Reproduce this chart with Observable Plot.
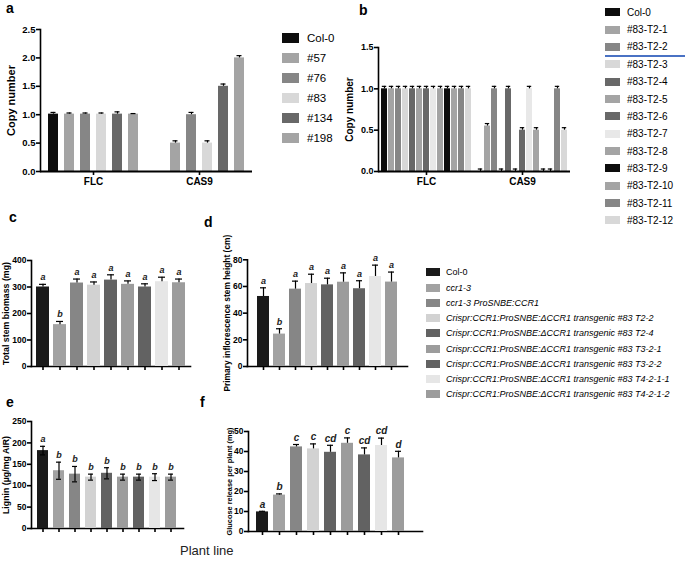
<!DOCTYPE html>
<html><head><meta charset="utf-8">
<script src="https://cdn.jsdelivr.net/npm/d3@7"></script>
<script src="https://cdn.jsdelivr.net/npm/@observablehq/plot@0.6"></script>
<style>
body{margin:0;background:#fff;}
#root{position:relative;width:685px;height:561px;overflow:hidden;font-family:"Liberation Sans",Arial,sans-serif;color:#000;background:#fff}
.panel{position:absolute}
.plab{position:absolute;font-weight:bold;font-size:14px;line-height:14px}
.leg{position:absolute}
.leg .row{position:absolute;left:0;white-space:nowrap;display:flex;align-items:center}
.leg .sw{display:inline-block;flex:none}
svg [aria-label="y-axis label"]{font-size:var(--ylab,9px)}
svg [aria-label="fx-axis tick label"]{font-size:var(--fxlab,10px)}
</style></head><body><div id="root"></div>
<script>
// ---------- data ----------
const genes = ["FLC", "CAS9"];

// panel a
const linesA = ["Col-0", "#57", "#76", "#83", "#134", "#198"];
const colorsA = ["#0d0d0d", "#a4a4a4", "#868686", "#d8d8d8", "#686868", "#a4a4a4"];
const flcA = [1.01, 1.01, 1.01, 1.01, 1.01, 1.01];
const flcAse = [0.03, 0.02, 0.02, 0.02, 0.04, 0.01];
const cas9A = [0, 0.5, 1.0, 0.5, 1.5, 2.0];
const cas9Ase = [0, 0.04, 0.04, 0.04, 0.04, 0.04];
const ticksA = [0, 0.5, 1.0, 1.5, 2.0, 2.5];

// panel b
const linesB = ["Col-0", "#83-T2-1", "#83-T2-2", "#83-T2-3", "#83-T2-4", "#83-T2-5", "#83-T2-6",
  "#83-T2-7", "#83-T2-8", "#83-T2-9", "#83-T2-10", "#83-T2-11", "#83-T2-12"];
const colorsB = ["#0d0d0d", "#a4a4a4", "#868686", "#d8d8d8", "#686868", "#a4a4a4", "#686868",
  "#e8e8e8", "#a4a4a4", "#0d0d0d", "#a4a4a4", "#868686", "#d8d8d8"];
const flcB = [1, 1, 1, 1, 1, 1, 1, 1, 1, 1, 1, 1, 1];
const flcBse = [0.03, 0.03, 0.03, 0.03, 0.03, 0.03, 0.03, 0.03, 0.03, 0.03, 0.03, 0.03, 0.03];
const cas9B = [0, 0.55, 1.0, 0, 1.0, 0, 0.5, 1.0, 0.5, 0, 0, 1.0, 0.5];
const cas9Bse = [0.03, 0.03, 0.03, 0.03, 0.03, 0.03, 0.03, 0.03, 0.03, 0.03, 0.03, 0.03, 0.03];
const ticksB = [0, 0.5, 1.0, 1.5];

// panels c-f
const plantLines = ["Col-0", "ccr1-3", "ccr1-3 ProSNBE:CCR1",
  "Crispr:CCR1:ProSNBE:\u0394CCR1 transgenic #83 T2-2",
  "Crispr:CCR1:ProSNBE:\u0394CCR1 transgenic #83 T2-4",
  "Crispr:CCR1:ProSNBE:\u0394CCR1 transgenic #83 T3-2-1",
  "Crispr:CCR1:ProSNBE:\u0394CCR1 transgenic #83 T3-2-2",
  "Crispr:CCR1:ProSNBE:\u0394CCR1 transgenic #83 T4-2-1-1",
  "Crispr:CCR1:ProSNBE:\u0394CCR1 transgenic #83 T4-2-1-2"];
const plantColors = ["#1a1a1a", "#a2a2a2", "#868686", "#d2d2d2", "#626262", "#9c9c9c", "#626262", "#e6e6e6", "#9c9c9c"];

const biomass = [300, 158, 315, 307, 326, 310, 300, 320, 316];
const biomassSe = [10, 12, 15, 12, 20, 13, 12, 17, 14];
const biomassLetters = ["a", "b", "a", "a", "a", "a", "a", "a", "a"];
const biomassTicks = [0, 100, 200, 300, 400];

const heightCm = [52.5, 24.3, 58, 62.2, 61.2, 63.2, 58.3, 67.5, 63.3];
const heightSe = [6.5, 4, 6, 7, 5, 7, 6, 8.5, 7.5];
const heightLetters = ["a", "b", "a", "a", "a", "a", "a", "a", "a"];
const heightTicks = [0, 20, 40, 60, 80];

const lignin = [182, 135, 127, 120, 129, 120, 120, 120, 120];
const ligninSe = [10, 20, 18, 7, 13, 7, 7, 8, 7];
const ligninLetters = ["a", "b", "b", "b", "b", "b", "b", "b", "b"];
const ligninTicks = [0, 50, 100, 150, 200, 250];

const glucose = [9.8, 18.2, 42.3, 41.3, 39.6, 44.1, 38.3, 43, 36.8];
const glucoseSe = [0.3, 0.6, 1.2, 2.5, 3.5, 2.7, 3.5, 3.7, 3.3];
const glucoseLetters = ["a", "b", "c", "c", "cd", "c", "cd", "cd", "d"];
const glucoseTicks = [0, 10, 20, 30, 40, 50];

// ---------- helpers ----------
const root = document.getElementById("root");
const FONT = '"Liberation Sans", Arial, sans-serif';

function place(node, left, top, vars) {
  const d = document.createElement("div");
  d.className = "panel";
  d.style.left = left + "px";
  d.style.top = top + "px";
  if (vars) for (const k in vars) d.style.setProperty(k, vars[k]);
  d.appendChild(node);
  root.appendChild(d);
}
function label(txt, x, y, cls, extra) {
  const d = document.createElement("div");
  d.className = cls;
  d.textContent = txt;
  d.style.left = x + "px";
  d.style.top = y + "px";
  if (extra) Object.assign(d.style, extra);
  root.appendChild(d);
}
function legend({left, top, pitch, swW, swH, gap, fontSize, items, colors, italic}) {
  const g = document.createElement("div");
  g.className = "leg";
  g.style.left = left + "px";
  g.style.top = top + "px";
  g.style.fontSize = fontSize + "px";
  items.forEach((t, i) => {
    const r = document.createElement("div");
    r.className = "row";
    r.style.top = (i * pitch - fontSize * 0.6) + "px";
    r.style.height = (fontSize * 1.2) + "px";
    const s = document.createElement("span");
    s.className = "sw";
    s.style.width = swW + "px"; s.style.height = swH + "px"; s.style.background = colors[i];
    s.style.marginRight = gap + "px";
    const tx = document.createElement("span");
    tx.textContent = t;
    if (italic && italic(t, i)) tx.style.fontStyle = "italic";
    r.appendChild(s); r.appendChild(tx);
    g.appendChild(r);
  });
  root.appendChild(g);
}

function grouped({lines, colors, vals1, se1, vals2, se2, ticks, width, height, ml, mt, mb, mr, xPad, capInset, fontSize, yLabel, labelOffset}) {
  const data = [];
  lines.forEach((l, i) => data.push({gene: "FLC", line: l, value: vals1[i], se: se1[i]}));
  lines.forEach((l, i) => data.push({gene: "CAS9", line: l, value: vals2[i], se: se2[i]}));
  const err = data.filter(d => d.se > 0);
  return Plot.plot({
    width, height, marginLeft: ml, marginTop: mt, marginBottom: mb, marginRight: mr,
    style: {fontFamily: FONT, fontSize: fontSize + "px", fontWeight: "bold", background: "none", overflow: "visible", color: "#000", strokeWidth: 1.6},
    fx: {domain: genes, padding: 0, label: null, tickSize: 4, tickPadding: 2},
    x: {domain: lines, padding: xPad, axis: null},
    y: {domain: [ticks[0], ticks[ticks.length - 1]], ticks, tickFormat: ".1f", tickSize: 4, tickPadding: 1, line: true,
        label: yLabel, labelAnchor: "center", labelArrow: "none", labelOffset},
    color: {domain: lines, range: colors},
    marks: [
      Plot.barY(data, {fx: "gene", x: "line", y: "value", fill: "line"}),
      Plot.ruleX(err, {fx: "gene", x: "line", y1: "value", y2: d => d.value + d.se, stroke: "#000", strokeWidth: 1.2}),
      Plot.tickY(err, {fx: "gene", x: "line", y: d => d.value + d.se, stroke: "#000", strokeWidth: 1.2, insetLeft: capInset, insetRight: capInset}),
      Plot.ruleY([0], {stroke: "#000", strokeWidth: 1.8})
    ]
  });
}

function single({values, ses, letters, ticks, twoSided, width, height, ml, mt, mb, mr, pIn, pOut, align, capInset, fontSize, yLabel, labelOffset, letterSize}) {
  const data = plantLines.map((l, i) => ({line: l, value: values[i], se: ses[i], letter: letters[i]}));
  return Plot.plot({
    width, height, marginLeft: ml, marginTop: mt, marginBottom: mb, marginRight: mr,
    style: {fontFamily: FONT, fontSize: fontSize + "px", fontWeight: "bold", background: "none", overflow: "visible", color: "#000", strokeWidth: 1.6},
    x: {domain: plantLines, paddingInner: pIn, paddingOuter: pOut, align, tickSize: 4, tickFormat: () => "", line: true, label: null},
    y: {domain: [ticks[0], ticks[ticks.length - 1]], ticks, tickSize: 4, tickPadding: 1, line: true,
        label: yLabel, labelAnchor: "center", labelArrow: "none", labelOffset},
    color: {domain: plantLines, range: plantColors},
    marks: [
      Plot.barY(data, {x: "line", y: "value", fill: "line"}),
      Plot.ruleX(data, {x: "line", y1: d => twoSided ? d.value - d.se : d.value, y2: d => d.value + d.se, stroke: "#000", strokeWidth: 1.2}),
      Plot.tickY(data, {x: "line", y: d => d.value + d.se, stroke: "#000", strokeWidth: 1.2, insetLeft: capInset, insetRight: capInset}),
      twoSided ? Plot.tickY(data, {x: "line", y: d => d.value - d.se, stroke: "#000", strokeWidth: 1.2, insetLeft: capInset, insetRight: capInset}) : null,
      Plot.text(data, {x: "line", y: d => d.value + d.se, text: "letter", dy: -7, fontStyle: "italic", fontSize: letterSize, fill: "#222"})
    ]
  });
}

// ---------- panel a ----------
place(grouped({lines: linesA, colors: colorsA, vals1: flcA, se1: flcAse, vals2: cas9A, se2: cas9Ase, ticks: ticksA,
  width: 265, height: 200, ml: 40, mt: 29, mb: 29, mr: 13, xPad: 0.38, capInset: 2.5, fontSize: 9.5,
  yLabel: "Copy number", labelOffset: 33}), 0, 0, {"--ylab": "11px", "--fxlab": "10px"});
legend({left: 282, top: 38, pitch: 20, swW: 17, swH: 10, gap: 8, fontSize: 11.5, items: linesA, colors: colorsA});

// ---------- panel b ----------
place(grouped({lines: linesB, colors: colorsB, vals1: flcB, se1: flcBse, vals2: cas9B, se2: cas9Bse, ticks: ticksB,
  width: 240, height: 196, ml: 47, mt: 47, mb: 25, mr: 0, xPad: 0.2, capInset: 0.8, fontSize: 9,
  yLabel: "Copy number", labelOffset: 33}), 330, 0, {"--ylab": "10px", "--fxlab": "10px"});
legend({left: 605, top: 12.3, pitch: 17.35, swW: 15, swH: 8, gap: 7, fontSize: 10, items: linesB, colors: colorsB});
(function(){ const ln = document.createElement("div"); ln.style.cssText = "position:absolute;left:605px;top:55px;width:80px;height:2px;background:#4a72c4"; root.appendChild(ln); })();

// ---------- panel c ----------
place(single({values: biomass, ses: biomassSe, letters: biomassLetters, ticks: biomassTicks, twoSided: false,
  width: 195, height: 126, ml: 31, mt: 10, mb: 10, mr: 5, pIn: 0.24, pOut: 0.29, align: 0.5, capInset: 3, fontSize: 8.5,
  yLabel: "Total stem biomass (mg)", labelOffset: 29, letterSize: 9}), 0, 250, {"--ylab": "8.8px"});

// ---------- panel d ----------
place(single({values: heightCm, ses: heightSe, letters: heightLetters, ticks: heightTicks, twoSided: false,
  width: 210, height: 126, ml: 47, mt: 9.3, mb: 10, mr: 3, pIn: 0.24, pOut: 0.35, align: 0.5, capInset: 3, fontSize: 8.5,
  yLabel: "Primary inflorescence stem height (cm)", labelOffset: 23, letterSize: 9}), 200, 250, {"--ylab": "8.4px"});
legend({left: 426, top: 272.3, pitch: 15.25, swW: 14, swH: 8, gap: 6, fontSize: 9, items: plantLines, colors: plantColors,
  italic: (t, i) => i > 0});

// ---------- panel e ----------
place(single({values: lignin, ses: ligninSe, letters: ligninLetters, ticks: ligninTicks, twoSided: true,
  width: 186, height: 128, ml: 31, mt: 11, mb: 10, mr: 3, pIn: 0.3, pOut: 0.15, align: 0.5, capInset: 3, fontSize: 8.5,
  yLabel: "Lignin (\u00b5g/mg AIR)", labelOffset: 29, letterSize: 9}), 0, 410, {"--ylab": "8.8px"});

// ---------- panel f ----------
place(single({values: glucose, ses: glucoseSe, letters: glucoseLetters, ticks: glucoseTicks, twoSided: false,
  width: 225, height: 121, ml: 48, mt: 11, mb: 10, mr: 3, pIn: 0.27, pOut: 0.636, align: 0.32, capInset: 3, fontSize: 8.5,
  yLabel: "Glucose release per plant (mg)", labelOffset: 22, letterSize: 10}), 200, 420, {"--ylab": "7.4px"});

// ---------- panel letters & caption ----------
label("a", 6, 1, "plab");
label("b", 359, 3, "plab");
label("c", 9, 210, "plab");
label("d", 204, 215, "plab");
label("e", 6, 395, "plab");
label("f", 200, 395, "plab");
label("Plant line", 180, 544, "plab", {fontWeight: "normal", fontSize: "13px", color: "#222"});
</script></body></html>
